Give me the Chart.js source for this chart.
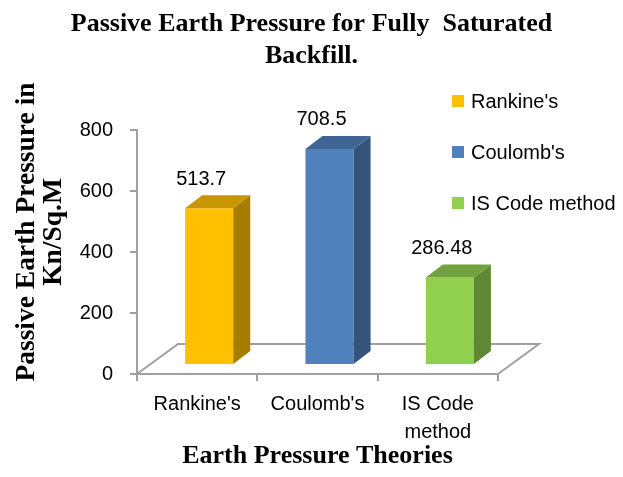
<!DOCTYPE html>
<html>
<head>
<meta charset="utf-8">
<script src="https://cdn.jsdelivr.net/npm/chart.js@4.4.0/dist/chart.umd.min.js"></script>
<style>
  html, body { margin: 0; padding: 0; background: #fff; }
  #wrap { width: 623px; height: 477px; }
</style>
</head>
<body>
<div id="wrap"><canvas id="grafica"></canvas></div>
<script>
const theories = ["Rankine's", "Coulomb's", 'IS Code method'];
const pressures = [513.7, 708.5, 286.48]; // Kn/Sq.M
const tickLabels = [["Rankine's"], ["Coulomb's"], ['IS Code', 'method']];
const barColors = ['#FFC000', '#4F81BD', '#92D050'];

const sansFont = '"Liberation Sans", Arial, sans-serif';
const serifFont = '"Liberation Serif", "Times New Roman", serif';
const axisGrey = '#a0a0a0';

// fake 3D look: floor depth, bar offset into the floor, bar thickness
const floorDepth = { x: 41, y: -30 };
const barShift = { x: 12, y: -9 };
const barDepth = { x: 17, y: -13 };

function shade(hex, f) {
  const n = parseInt(hex.slice(1), 16);
  const r = Math.round((n >> 16) * f);
  const g = Math.round(((n >> 8) & 255) * f);
  const b = Math.round((n & 255) * f);
  return `rgb(${r},${g},${b})`;
}

const fake3d = {
  id: 'fake3d',
  beforeDatasetsDraw(chart) {
    const { ctx, chartArea: a } = chart;
    ctx.save();
    ctx.strokeStyle = axisGrey;
    ctx.lineWidth = 2;
    ctx.beginPath();
    ctx.moveTo(a.left, a.bottom);
    ctx.lineTo(a.left + floorDepth.x, a.bottom + floorDepth.y);
    ctx.lineTo(a.right + floorDepth.x, a.bottom + floorDepth.y);
    ctx.lineTo(a.right, a.bottom);
    ctx.stroke();
    ctx.restore();
  },
  beforeDatasetDraw(chart) {
    chart.ctx.save();
    chart.ctx.translate(barShift.x, barShift.y);
  },
  afterDatasetDraw(chart) {
    chart.ctx.restore();
  },
  afterDatasetsDraw(chart) {
    const { ctx } = chart;
    const meta = chart.getDatasetMeta(0);
    ctx.save();
    meta.data.forEach((bar, i) => {
      const { x, y, base, width } = bar.getProps(['x', 'y', 'base', 'width'], true);
      const l = x - width / 2 + barShift.x;
      const r = x + width / 2 + barShift.x;
      const t = y + barShift.y;
      const b = base + barShift.y;
      const dx = barDepth.x, dy = barDepth.y;

      // side face
      ctx.fillStyle = shade(barColors[i], 0.65);
      ctx.beginPath();
      ctx.moveTo(r, t);
      ctx.lineTo(r + dx, t + dy);
      ctx.lineTo(r + dx, b + dy);
      ctx.lineTo(r, b);
      ctx.closePath();
      ctx.fill();

      // top face
      ctx.fillStyle = shade(barColors[i], 0.78);
      ctx.beginPath();
      ctx.moveTo(l, t);
      ctx.lineTo(l + dx, t + dy);
      ctx.lineTo(r + dx, t + dy);
      ctx.lineTo(r, t);
      ctx.closePath();
      ctx.fill();

      // value label
      ctx.fillStyle = '#000';
      ctx.font = '20px ' + sansFont;
      ctx.textAlign = 'center';
      ctx.textBaseline = 'middle';
      ctx.fillText(String(pressures[i]), x + 4, t - 29);
    });
    ctx.restore();
  },
  afterDraw(chart) {
    const { ctx } = chart;
    ctx.save();

    // y axis title (two lines, rotated)
    ctx.translate(27, 232);
    ctx.rotate(-Math.PI / 2);
    ctx.fillStyle = '#000';
    ctx.font = 'bold 27.5px ' + serifFont;
    ctx.textAlign = 'center';
    ctx.textBaseline = 'middle';
    ctx.fillText('Passive Earth Pressure in', 0, 0);
    ctx.fillText('Kn/Sq.M', 0, 27);
    ctx.restore();

    // legend, one entry per theory
    ctx.save();
    ctx.font = '20px ' + sansFont;
    ctx.textAlign = 'left';
    ctx.textBaseline = 'middle';
    theories.forEach((name, i) => {
      const cy = 101 + i * 51;
      ctx.fillStyle = barColors[i];
      ctx.fillRect(452, cy - 6, 12, 12);
      ctx.fillStyle = '#000';
      ctx.fillText(name, 471, cy + 1);
    });
    ctx.restore();
  }
};

const ctx = document.getElementById('grafica').getContext('2d');

new Chart(ctx, {
  type: 'bar',
  data: {
    labels: theories,
    datasets: [
      {
        label: 'Passive Earth Pressure',
        data: pressures,
        backgroundColor: barColors,
        borderWidth: 0,
        barPercentage: 0.5,
        categoryPercentage: 0.8,
      },
    ],
  },
  options: {
    responsive: true,
    maintainAspectRatio: false,
    animation: false,
    devicePixelRatio: 1,
    layout: {
      padding: 0,
    },
    plugins: {
      legend: { display: false },
      tooltip: { enabled: false },
      title: {
        display: true,
        text: ['Passive Earth Pressure for Fully  Saturated', 'Backfill.'],
        color: '#000',
        font: { family: serifFont, size: 26, weight: 'bold', lineHeight: 1.2 },
        padding: { top: 9, bottom: 58.6 },
      },
    },
    scales: {
      x: {
        afterFit(scale) { scale.height = 103; },
        grid: {
          display: true,
          drawOnChartArea: false,
          drawTicks: true,
          tickLength: 7,
          color: axisGrey,
          lineWidth: 2,
        },
        border: { display: true, color: axisGrey, width: 2 },
        ticks: {
          color: '#000',
          padding: 9,
          font: { family: sansFont, size: 20, lineHeight: 1.4 },
          callback: (v, i) => tickLabels[i],
        },
        title: {
          display: true,
          text: 'Earth Pressure Theories',
          color: '#000',
          font: { family: serifFont, size: 26, weight: 'bold', lineHeight: 1.2 },
          padding: { top: 0, bottom: 5.4 },
        },
      },
      y: {
        min: 0,
        max: 800,
        afterFit(scale) { scale.width = 137; },
        grid: {
          display: true,
          drawOnChartArea: false,
          drawTicks: true,
          tickLength: 7,
          color: axisGrey,
          lineWidth: 2,
        },
        border: { display: true, color: axisGrey, width: 2 },
        ticks: {
          stepSize: 200,
          color: '#000',
          padding: 17,
          font: { family: sansFont, size: 20 },
        },
      },
      // empty box on the right that leaves room for the legend
      side: {
        type: 'linear',
        position: 'right',
        display: true,
        afterFit(scale) { scale.width = 125; },
        grid: { display: false },
        border: { display: false },
        ticks: { display: false },
      },
    },
  },
  plugins: [fake3d],
});
</script>
</body>
</html>
